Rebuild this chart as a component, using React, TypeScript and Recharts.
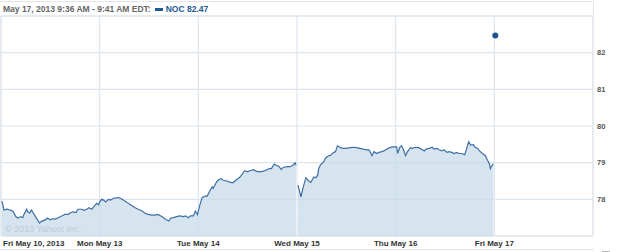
import React from 'react';
import {
  ComposedChart,
  Area,
  Line,
  XAxis,
  YAxis,
  CartesianGrid,
  ReferenceArea
} from 'recharts';

// x positions are in trading days since Fri May 10 open (0 = Fri, 1 = Mon, ...)
const fri10 = [
  [0.01, 77.95], [0.03, 77.71], [0.06, 77.73], [0.09, 77.71], [0.12, 77.68], [0.15, 77.53],
  [0.17, 77.49], [0.2, 77.53], [0.22, 77.5], [0.23, 77.57], [0.26, 77.73], [0.27, 77.66],
  [0.29, 77.63], [0.31, 77.71], [0.32, 77.66], [0.35, 77.53], [0.39, 77.35], [0.41, 77.4],
  [0.45, 77.44], [0.47, 77.49], [0.5, 77.44], [0.52, 77.47], [0.55, 77.46], [0.58, 77.5],
  [0.62, 77.55], [0.65, 77.59], [0.68, 77.59], [0.71, 77.64], [0.73, 77.66], [0.76, 77.64],
  [0.78, 77.73], [0.82, 77.73], [0.84, 77.7], [0.87, 77.73], [0.89, 77.77], [0.92, 77.73],
  [0.94, 77.8], [0.97, 77.89], [0.99, 77.85]
];
const mon13 = [
  [1.0, 77.93], [1.02, 78.0], [1.04, 77.98], [1.06, 77.93], [1.09, 78.0], [1.11, 77.98],
  [1.14, 78.03], [1.17, 78.04], [1.19, 78.05], [1.21, 78.03], [1.24, 77.98], [1.27, 77.93],
  [1.29, 77.89], [1.32, 77.84], [1.36, 77.77], [1.39, 77.73], [1.43, 77.68], [1.46, 77.62],
  [1.49, 77.59], [1.53, 77.57], [1.56, 77.57], [1.59, 77.59], [1.63, 77.53], [1.66, 77.47],
  [1.7, 77.41], [1.72, 77.49], [1.75, 77.5], [1.78, 77.53], [1.81, 77.55], [1.85, 77.53],
  [1.87, 77.55], [1.9, 77.5], [1.92, 77.55], [1.95, 77.55], [1.97, 77.68], [1.99, 77.58]
];
const tue14 = [
  [2.02, 77.89], [2.04, 78.05], [2.07, 78.09], [2.09, 78.09], [2.12, 78.25], [2.14, 78.34],
  [2.15, 78.3], [2.18, 78.45], [2.2, 78.52], [2.23, 78.57], [2.25, 78.52], [2.29, 78.5],
  [2.32, 78.47], [2.35, 78.45], [2.39, 78.54], [2.42, 78.6], [2.45, 78.71], [2.47, 78.78],
  [2.5, 78.75], [2.52, 78.78], [2.56, 78.81], [2.59, 78.76], [2.62, 78.75], [2.66, 78.77],
  [2.69, 78.8], [2.72, 78.84], [2.74, 78.84], [2.77, 78.96], [2.79, 78.93], [2.82, 78.89],
  [2.84, 78.81], [2.86, 78.87], [2.9, 78.89], [2.93, 78.89], [2.96, 78.93], [2.98, 79.0],
  [2.99, 78.93]
];
const wed15 = [
  [3.01, 78.39], [3.04, 78.07], [3.06, 78.3], [3.09, 78.59], [3.11, 78.52], [3.14, 78.46],
  [3.17, 78.61], [3.19, 78.59], [3.21, 78.66], [3.22, 78.84], [3.24, 78.95], [3.27, 79.02],
  [3.29, 79.13], [3.32, 79.19], [3.34, 79.2], [3.37, 79.28], [3.39, 79.3], [3.41, 79.46],
  [3.44, 79.41], [3.47, 79.39], [3.5, 79.39], [3.54, 79.41], [3.57, 79.42], [3.6, 79.41],
  [3.64, 79.39], [3.67, 79.37], [3.71, 79.35], [3.73, 79.35], [3.75, 79.25], [3.76, 79.19],
  [3.78, 79.3], [3.81, 79.25], [3.83, 79.28], [3.86, 79.3], [3.88, 79.32], [3.91, 79.37],
  [3.94, 79.41], [3.97, 79.43], [3.99, 79.43]
];
const thu16 = [
  [4.01, 79.43], [4.02, 79.25], [4.04, 79.41], [4.06, 79.46], [4.08, 79.35], [4.1, 79.19],
  [4.12, 79.3], [4.15, 79.41], [4.17, 79.39], [4.2, 79.42], [4.23, 79.41], [4.26, 79.37],
  [4.29, 79.32], [4.31, 79.37], [4.34, 79.39], [4.37, 79.42], [4.39, 79.37], [4.42, 79.39],
  [4.44, 79.35], [4.47, 79.32], [4.49, 79.35], [4.52, 79.28], [4.54, 79.3], [4.57, 79.28],
  [4.59, 79.25], [4.62, 79.28], [4.64, 79.25], [4.67, 79.25], [4.7, 79.22], [4.72, 79.39],
  [4.74, 79.57], [4.76, 79.48], [4.79, 79.49], [4.8, 79.43], [4.83, 79.39], [4.85, 79.32],
  [4.88, 79.25], [4.91, 79.19], [4.93, 79.07], [4.95, 78.97], [4.96, 78.84], [4.97, 78.9],
  [4.98, 78.93], [4.99, 78.97]
];
const lastQuote = [5.01, 82.47];

const dayTicks = [0, 1, 2, 3, 4, 5];
const dayLabels = ['Fri May 10, 2013', 'Mon May 13', 'Tue May 14', 'Wed May 15', 'Thu May 16', 'Fri May 17'];
const priceTicks = [78, 79, 80, 81, 82];

const toRows = (pts: number[][]) => pts.map(([t, price]) => ({ t, price }));

const data = [
  ...toRows(fri10),
  ...toRows(mon13),
  ...toRows(tue14),
  { t: 3.0, price: null },
  ...toRows(wed15),
  ...toRows(thu16),
  { t: lastQuote[0], price: null, last: lastQuote[1] }
];

const FONT = '"Liberation Sans", Arial, sans-serif';

const DayTick = (props: any) => {
  const { x, y, payload, index } = props;
  const first = index === 0;
  return (
    <text
      x={first ? x + 2 : x}
      y={y}
      dy={10}
      textAnchor={first ? 'start' : 'middle'}
      fontFamily={FONT}
      fontSize={8}
      fontWeight="bold"
      fill="#333"
    >
      {dayLabels[dayTicks.indexOf(payload.value)]}
    </text>
  );
};

export default function App() {
  return (
    <div style={{ position: 'absolute', left: 0, top: 0, width: 625, height: 252, background: '#fff' }}>
      <div
        style={{
          position: 'absolute',
          left: 0,
          top: 1,
          width: 593,
          height: 14,
          borderTop: '1px solid #e4e4e4',
          borderRight: '1px solid #e4e4e4',
          fontFamily: FONT,
          fontSize: 8.5,
          fontWeight: 'bold',
          lineHeight: '14px',
          whiteSpace: 'nowrap'
        }}
      >
        <span style={{ color: '#666', marginLeft: 3 }}>May 17, 2013 9:36 AM - 9:41 AM EDT:</span>
        <span
          style={{
            display: 'inline-block',
            width: 8,
            height: 3,
            background: '#1d5a96',
            margin: '0 3px 1px 4px',
            verticalAlign: 'middle'
          }}
        />
        <span style={{ color: '#1d5a96' }}>NOC 82.47</span>
      </div>

      <ComposedChart
        width={625}
        height={252}
        data={data}
        margin={{ top: 16, right: 0, left: 1, bottom: 0 }}
      >
        <CartesianGrid stroke="#dde6ee" strokeWidth={1.2} />
        <ReferenceArea x1={0} x2={6} y1={77} y2={83} fill="none" stroke="#dfe5ea" ifOverflow="visible" />
        <XAxis
          type="number"
          dataKey="t"
          domain={[0, 6]}
          ticks={dayTicks}
          axisLine={false}
          tickLine={false}
          tickSize={0}
          tickMargin={0}
          height={16}
          tick={<DayTick />}
          interval={0}
        />
        <YAxis
          orientation="right"
          domain={[77, 83]}
          ticks={priceTicks}
          axisLine={false}
          tickLine={false}
          tickSize={0}
          tickMargin={4}
          width={32}
          tick={{ fontSize: 7.5, fontFamily: FONT, fontWeight: 'bold', fill: '#555', textAnchor: 'start' }}
        />
        <Area
          type="linear"
          dataKey="price"
          stroke="#3f6fa2"
          strokeWidth={1.2}
          fill="#c4d8ea"
          fillOpacity={0.7}
          connectNulls={false}
          dot={false}
          activeDot={false}
          isAnimationActive={false}
        />
        <Line
          dataKey="last"
          stroke="none"
          dot={{ r: 3, fill: '#1f4f8c', stroke: 'none' }}
          activeDot={false}
          isAnimationActive={false}
        />
      </ComposedChart>

      <div
        style={{
          position: 'absolute',
          left: 5,
          top: 224,
          fontFamily: FONT,
          fontSize: 9,
          color: '#bccbd9'
        }}
      >
        © 2013 Yahoo! Inc.
      </div>
      <div style={{ position: 'absolute', left: 0, top: 249, width: 594, height: 1, background: '#e2e2e2' }} />
      <div style={{ position: 'absolute', left: 602, top: 251, width: 8, height: 1, background: '#bbb' }} />
    </div>
  );
}
